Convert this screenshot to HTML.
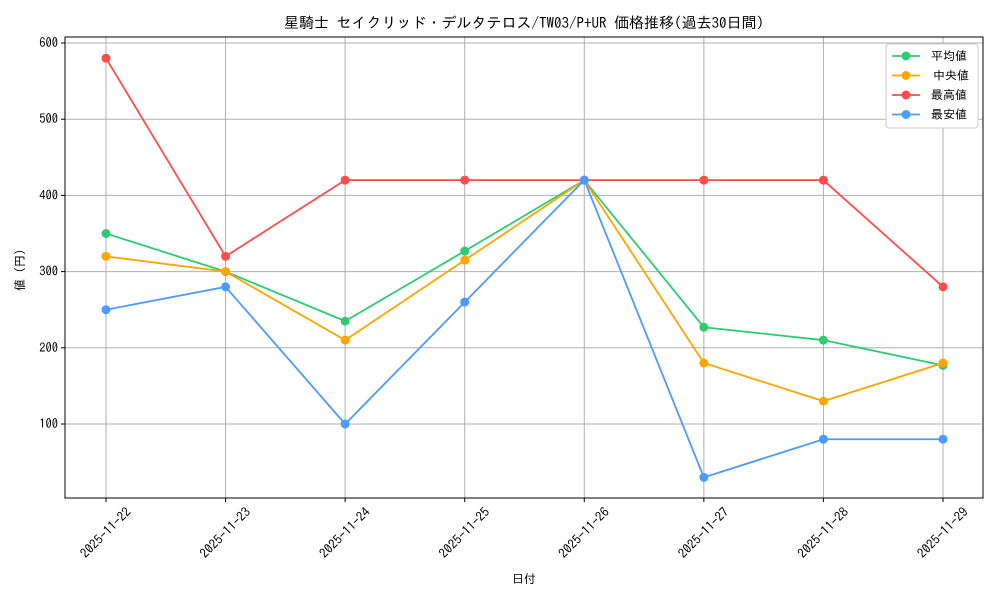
<!DOCTYPE html>
<html><head><meta charset="utf-8"><style>
body{margin:0;background:#fff;}
svg text{font-family:"IPAGothic","Noto Sans CJK JP",monospace;fill:#000;}
</style></head><body>
<svg id="chart" width="1000" height="600" xmlns="http://www.w3.org/2000/svg">
<rect width="1000" height="600" fill="#fff"/>
<text x="524" y="28" font-size="15" text-anchor="middle">星騎士 セイクリッド・デルタテロス/TW03/P+UR 価格推移(過去30日間)</text>
<g id="grid"></g><g id="axes"></g><g id="series"></g>
<text x="524" y="583" font-size="12" text-anchor="middle">日付</text>
<text x="24" y="270" font-size="12" text-anchor="middle" transform="rotate(-90 24 270)">値 (円)</text>
<g id="legend"></g>
</svg>
<script>
const categories=["2025-11-22","2025-11-23","2025-11-24","2025-11-25","2025-11-26","2025-11-27","2025-11-28","2025-11-29"];
const avgValues=[350,300,235,327,420,227,210,177];
const medianValues=[320,300,210,315,420,180,130,180];
const maxValues=[580,320,420,420,420,420,420,280];
const minValues=[250,280,100,260,420,30,80,80];
const yTicks=[100,200,300,400,500,600];
const seriesNames=["平均値","中央値","最高値","最安値"];
const seriesColors=["#2ecc71","#ffa500","#ff4c4c","#4c9bff"];
const NS="http://www.w3.org/2000/svg";
const L=65,R=983,T=37,B=498;
const xs=i=>106+i*(943-106)/(categories.length-1);
const ys=v=>424-(v-100)*0.762;
function mk(tag,attrs,parent){const e=document.createElementNS(NS,tag);for(const k in attrs)e.setAttribute(k,attrs[k]);parent.appendChild(e);return e;}
const grid=document.getElementById('grid'),axes=document.getElementById('axes'),ser=document.getElementById('series'),leg=document.getElementById('legend');
categories.forEach((c,i)=>{
 const x=xs(i);
 const g=mk('line',{x1:x,x2:x,y1:T,y2:B,stroke:'#b0b0b0','stroke-width':1},grid);
 
 
 mk('line',{x1:x,x2:x,y1:B,y2:B+4,stroke:'#000'},axes);
 const cy=B+35;
 const t=mk('text',{x:x,y:cy+4,'font-size':13,'text-anchor':'middle',transform:`rotate(-45 ${x} ${cy})`},axes);
 t.textContent=c;
 
 
});
yTicks.forEach(v=>{
 const y=ys(v);
 const g=mk('line',{x1:L,x2:R,y1:y,y2:y,stroke:'#b0b0b0','stroke-width':1},grid);
 
 
 mk('line',{x1:L-4,x2:L,y1:y,y2:y,stroke:'#000'},axes);
 const t=mk('text',{x:L-7,y:y+4,'font-size':12.5,'text-anchor':'end'},axes);
 t.textContent=v;
 
 
});
const frame=mk('rect',{x:L,y:T,width:R-L,height:B-T,fill:'none',stroke:'#000','stroke-width':1},axes);


const allSeries=[avgValues,medianValues,maxValues,minValues];
allSeries.forEach((vals,s)=>{
 const p=mk('polyline',{points:vals.map((v,i)=>xs(i)+','+ys(v)).join(' '),fill:'none',stroke:seriesColors[s],'stroke-width':1.8},ser);
 
 
 vals.forEach((v,i)=>{
  const c=mk('circle',{cx:xs(i),cy:ys(v),r:4.5,fill:seriesColors[s]},ser);
  
  
 });
});
const lb=mk('rect',{x:886,y:44,width:92,height:84,fill:'#fff',stroke:'#ccc',rx:3},leg);


seriesNames.forEach((n,s)=>{
 const y=56+s*19.5;
 mk('line',{x1:892,x2:920,y1:y,y2:y,stroke:seriesColors[s],'stroke-width':1.8},leg);
 mk('circle',{cx:906,cy:y,r:4.5,fill:seriesColors[s]},leg);
 const t=mk('text',{x:(s===1?933:931),y:y+4,'font-size':12},leg);
 t.textContent=n;
 
 
});
</script>
</body></html>
